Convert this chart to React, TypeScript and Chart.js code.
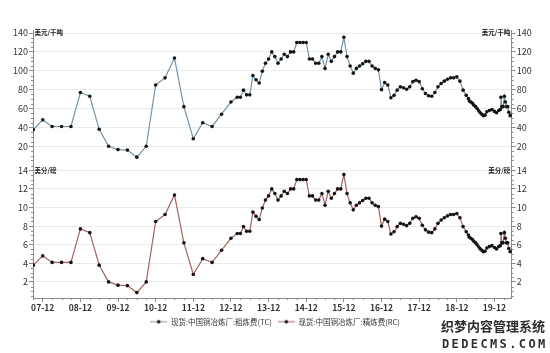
import React, { useEffect, useRef } from 'react';
import { Chart, registerables } from 'chart.js';

Chart.register(...registerables);

const FONT = '"Noto Sans CJK SC", "Noto Sans", sans-serif';
const AXIS_COLOR = '#8c8c8c';
const GRID_COLOR = '#ebebeb';
const TEXT_COLOR = '#333333';
const TC_COLOR = '#7393a8';
const RC_COLOR = '#a3645e';
const POINT_COLOR = '#151515';

// ---- data ----
const dates = [
  '2007-09-01', '2007-12-01', '2008-03-01', '2008-06-01', '2008-09-01', '2008-12-01',
  '2009-03-01', '2009-06-01', '2009-09-01', '2009-12-01', '2010-03-01', '2010-06-01',
  '2010-09-01', '2010-12-01', '2011-03-01', '2011-06-01', '2011-09-01', '2011-12-01',
  '2012-03-01', '2012-06-01', '2012-09-01', '2012-12-01', '2013-02-01', '2013-03-01',
  '2013-04-01', '2013-05-01', '2013-06-01', '2013-07-01', '2013-08-01', '2013-09-01',
  '2013-10-01', '2013-11-01', '2013-12-01', '2014-01-01', '2014-02-01', '2014-03-01',
  '2014-04-01', '2014-05-01', '2014-06-01', '2014-07-01', '2014-08-01', '2014-09-01',
  '2014-10-01', '2014-11-01', '2014-12-01', '2015-01-01', '2015-02-01', '2015-03-01',
  '2015-04-01', '2015-05-01', '2015-06-01', '2015-07-01', '2015-08-01', '2015-09-01',
  '2015-10-01', '2015-11-01', '2015-12-01', '2016-01-01', '2016-02-01', '2016-03-01',
  '2016-04-01', '2016-05-01', '2016-06-01', '2016-07-01', '2016-08-01', '2016-09-01',
  '2016-10-01', '2016-11-01', '2016-12-01', '2017-01-01', '2017-02-01', '2017-03-01',
  '2017-04-01', '2017-05-01', '2017-06-01', '2017-07-01', '2017-08-01', '2017-09-01',
  '2017-10-01', '2017-11-01', '2017-12-01', '2018-01-01', '2018-02-01', '2018-03-01',
  '2018-04-01', '2018-05-01', '2018-06-01', '2018-07-01', '2018-08-01', '2018-09-01',
  '2018-10-01', '2018-11-01', '2018-12-01', '2019-01-01', '2019-02-01', '2019-03-01',
  '2019-03-22', '2019-04-01', '2019-04-15', '2019-05-01', '2019-05-15', '2019-06-01',
  '2019-06-15', '2019-07-01', '2019-07-15', '2019-08-01', '2019-08-15', '2019-09-01',
  '2019-09-18', '2019-10-12', '2019-11-06', '2019-12-01', '2019-12-21', '2020-01-12',
  '2020-01-27', '2020-02-03', '2020-02-12', '2020-02-24', '2020-03-06', '2020-03-15',
  '2020-03-27', '2020-04-08', '2020-04-18', '2020-05-01', '2020-05-12',
];

// 粗炼费 TC (美元/干吨)
const tcValues = [
  37.5, 48, 41, 41, 41, 77,
  73, 38, 20, 16.5, 16, 8.5,
  20, 85, 92.5, 113.5, 62, 28,
  45, 41, 54, 67, 72, 72,
  79.5, 74.5, 74.5, 95, 90.5, 87,
  99.5, 108, 112.5, 120, 115, 108,
  112.5, 117.5, 115, 120, 120, 130,
  130, 130, 130, 112.5, 112.5, 108,
  108, 115, 102.5, 117.5, 110, 115,
  120, 120, 135.5, 115, 105, 97.5,
  102.5, 105, 107.5, 110, 110, 105,
  102.5, 101, 80, 87.5, 85, 71.5,
  74, 79.5, 83, 82, 80.5, 83,
  88.5, 90, 88.5, 81, 76, 73.5,
  73, 77, 83, 86.5, 89, 91,
  92.5, 92.5, 93.5, 89, 79.5, 74,
  70.5, 68, 67, 65.5, 63.5, 62,
  60, 57.5, 55.5, 54, 52.5, 53,
  56.5, 58, 59, 57, 55.5, 58,
  59, 72, 62, 62, 73, 67,
  62, 62, 56, 52.5, 53,
];

// 精炼费 RC (美分/磅)
const rcValues = [
  3.8, 4.8, 4.1, 4.1, 4.1, 7.7,
  7.3, 3.8, 2.0, 1.65, 1.6, 0.85,
  2.0, 8.5, 9.25, 11.35, 6.2, 2.8,
  4.5, 4.1, 5.4, 6.7, 7.2, 7.2,
  7.95, 7.45, 7.45, 9.5, 9.05, 8.7,
  9.95, 10.8, 11.25, 12.0, 11.5, 10.8,
  11.25, 11.75, 11.5, 12.0, 12.0, 13.0,
  13.0, 13.0, 13.0, 11.25, 11.25, 10.8,
  10.8, 11.5, 10.25, 11.75, 11.0, 11.5,
  12.0, 12.0, 13.55, 11.5, 10.5, 9.75,
  10.25, 10.5, 10.75, 11.0, 11.0, 10.5,
  10.25, 10.1, 8.0, 8.75, 8.5, 7.15,
  7.4, 7.95, 8.3, 8.2, 8.05, 8.3,
  8.85, 9.0, 8.85, 8.1, 7.6, 7.35,
  7.3, 7.7, 8.3, 8.65, 8.9, 9.1,
  9.25, 9.25, 9.35, 8.9, 7.95, 7.4,
  7.05, 6.8, 6.7, 6.55, 6.35, 6.2,
  6.0, 5.75, 5.55, 5.4, 5.25, 5.3,
  5.65, 5.8, 5.9, 5.7, 5.55, 5.8,
  5.9, 7.2, 6.2, 6.2, 7.3, 6.7,
  6.2, 6.2, 5.6, 5.25, 5.3,
];

const xTickDates = [
  '2007-12-01', '2008-12-01', '2009-12-01', '2010-12-01', '2011-12-01', '2012-12-01', '2013-12-01',
  '2014-12-01', '2015-12-01', '2016-12-01', '2017-12-01', '2018-12-01', '2019-12-01',
];
const xTickLabels = [
  '07-12', '08-12', '09-12', '10-12', '11-12', '12-12', '13-12',
  '14-12', '15-12', '16-12', '17-12', '18-12', '19-12',
];
const tcTicks = [20, 40, 60, 80, 100, 120, 140];
const rcTicks = [2, 4, 6, 8, 10, 12, 14];

const tcLabel = '现货:中国铜冶炼厂:粗炼费(TC)';
const rcLabel = '现货:中国铜冶炼厂:精炼费(RC)';
const tcUnit = '美元/干吨';
const rcUnit = '美分/磅';
const watermark1 = '织梦内容管理系统';
const watermark2 = 'DEDECMS.COM';

// months since 2007-12
function monthIndex(d: string): number {
  const [y, m, dd] = d.split('-').map(Number);
  return (y - 2007) * 12 + (m - 12) + (dd - 1) / 30;
}

function makeMarker(color: string): HTMLCanvasElement {
  const c = document.createElement('canvas');
  c.width = 17;
  c.height = 6;
  const g = c.getContext('2d')!;
  g.strokeStyle = color;
  g.lineWidth = 1;
  g.beginPath();
  g.moveTo(0, 3);
  g.lineTo(17, 3);
  g.stroke();
  g.fillStyle = POINT_COLOR;
  g.beginPath();
  g.arc(8.5, 3, 1.8, 0, Math.PI * 2);
  g.fill();
  return c;
}

const extrasPlugin = {
  id: 'extras',
  afterDraw(chart: any) {
    const ctx = chart.ctx as CanvasRenderingContext2D;
    const { left, right } = chart.chartArea;
    const s = chart.scales;
    ctx.save();
    ctx.strokeStyle = AXIS_COLOR;
    ctx.lineWidth = 1;
    // minor ticks on y axes
    const minorY = (scale: any, step: number, major: number[], side: 'left' | 'right') => {
      for (let v = step; v < scale.max; v += step) {
        if (v < scale.min) continue;
        if (major.some((m) => Math.abs(m - v) < 1e-6)) continue;
        const y = Math.round(scale.getPixelForValue(v)) + 0.5;
        ctx.beginPath();
        if (side === 'left') {
          ctx.moveTo(left - 2, y);
          ctx.lineTo(left, y);
        } else {
          ctx.moveTo(right, y);
          ctx.lineTo(right + 2, y);
        }
        ctx.stroke();
      }
    };
    minorY(s.yTC, 5, tcTicks, 'left');
    minorY(s.yRC, 0.5, rcTicks, 'left');
    minorY(s.yTCR, 5, tcTicks, 'right');
    minorY(s.yRCR, 0.5, rcTicks, 'right');
    // minor ticks on x axis (quarterly)
    const xs = s.x;
    const bottom = chart.chartArea.bottom;
    for (let m = -3; m <= xs.max; m += 3) {
      if (m % 12 === 0) continue;
      const x = Math.round(xs.getPixelForValue(m)) + 0.5;
      ctx.beginPath();
      ctx.moveTo(x, bottom);
      ctx.lineTo(x, bottom + 2);
      ctx.stroke();
    }
    // unit labels
    ctx.fillStyle = '#222';
    ctx.font = `bold 6.5px ${FONT}`;
    ctx.textBaseline = 'middle';
    const yTop = s.yTC.getPixelForValue(140);
    const yBot = s.yRC.getPixelForValue(14);
    ctx.textAlign = 'left';
    ctx.fillText(tcUnit, left + 1.5, yTop);
    ctx.fillText(rcUnit, left + 1.5, yBot);
    ctx.textAlign = 'right';
    ctx.fillText(tcUnit, right - 1.5, yTop);
    ctx.fillText(rcUnit, right - 1.5, yBot);
    // watermark
    ctx.textAlign = 'left';
    ctx.fillStyle = '#2e2e2e';
    ctx.font = `bold 13px ${FONT}`;
    ctx.fillText(watermark1, 441, 326);
    ctx.font = `bold 12px "DejaVu Sans Mono", monospace`;
    for (let i = 0; i < watermark2.length; i++) {
      ctx.fillText(watermark2[i], 442 + i * 9.6, 345);
    }
    ctx.restore();
  },
};

function yScale(ticksArr: number[], position: 'left' | 'right', stack: string, min: number, max: number) {
  return {
    type: 'linear',
    position,
    stack,
    stackWeight: 1,
    min,
    max,
    afterBuildTicks: (scale: any) => {
      scale.ticks = ticksArr.map((v) => ({ value: v }));
    },
    afterFit: (scale: any) => {
      scale.width = position === 'left' ? 33 : 38.3;
    },
    border: { display: true, color: AXIS_COLOR, width: 1 },
    grid: {
      display: true,
      drawOnChartArea: position === 'left',
      color: GRID_COLOR,
      tickColor: AXIS_COLOR,
      tickLength: 4,
      lineWidth: 1,
    },
    ticks: {
      autoSkip: false,
      font: { family: FONT, size: 9 },
      color: TEXT_COLOR,
      padding: 1,
    },
  };
}

export default function App() {
  const ref = useRef<HTMLCanvasElement | null>(null);

  useEffect(() => {
    if (!ref.current) return;
    const xVals = dates.map(monthIndex);
    const xTickVals = xTickDates.map(monthIndex);
    const markers = [makeMarker(TC_COLOR), makeMarker(RC_COLOR)];
    const chart = new Chart(ref.current, {
      type: 'line',
      data: {
        datasets: [
          {
            label: tcLabel,
            data: xVals.map((x, i) => ({ x, y: tcValues[i] })),
            yAxisID: 'yTC',
            borderColor: TC_COLOR,
            borderWidth: 1.2,
            pointRadius: 1.8,
            pointBackgroundColor: POINT_COLOR,
            pointBorderWidth: 0,
            tension: 0,
          },
          {
            label: rcLabel,
            data: xVals.map((x, i) => ({ x, y: rcValues[i] })),
            yAxisID: 'yRC',
            borderColor: RC_COLOR,
            borderWidth: 1.2,
            pointRadius: 1.8,
            pointBackgroundColor: POINT_COLOR,
            pointBorderWidth: 0,
            tension: 0,
          },
        ],
      },
      options: {
        responsive: false,
        animation: false,
        layout: { padding: { top: 30, right: 0, bottom: 17.5, left: 0 } },
        plugins: {
          legend: {
            position: 'bottom',
            labels: {
              font: { family: FONT, size: 7.5 },
              color: TEXT_COLOR,
              usePointStyle: true,
              pointStyleWidth: 17,
              padding: 6,
              generateLabels: (c: any) => {
                const items = (Chart as any).defaults.plugins.legend.labels.generateLabels(c);
                return items.map((it: any, i: number) => ({ ...it, pointStyle: markers[i], lineWidth: 0 }));
              },
            },
          },
          tooltip: { enabled: false },
        },
        scales: {
          x: {
            type: 'linear',
            position: 'bottom',
            min: -3.1,
            max: 149.5,
            afterBuildTicks: (scale: any) => {
              scale.ticks = xTickVals.map((v) => ({ value: v }));
            },
            afterFit: (scale: any) => {
              scale.height = 14;
            },
            border: { display: true, color: AXIS_COLOR, width: 1 },
            grid: { display: true, drawOnChartArea: false, tickColor: AXIS_COLOR, tickLength: 4 },
            ticks: {
              autoSkip: false,
              maxRotation: 0,
              padding: 1,
              font: { family: FONT, size: 8.5, weight: 'bold' },
              color: TEXT_COLOR,
              callback: (_v: any, i: number) => xTickLabels[i],
            },
          },
          yRC: yScale(rcTicks, 'left', 'L', 0.27, 14.68),
          yTC: yScale(tcTicks, 'left', 'L', 1.26, 143.2),
          yTCR: yScale(tcTicks, 'right', 'R', 1.26, 143.2),
          yRCR: yScale(rcTicks, 'right', 'R', 0.27, 14.68),
        },
      } as any,
      plugins: [extrasPlugin],
    });
    return () => chart.destroy();
  }, []);

  return (
    <div style={{ position: 'absolute', left: 0, top: 0, width: 550, height: 353, background: '#fff' }}>
      <canvas ref={ref} width={550} height={353} style={{ width: 550, height: 353 }} />
    </div>
  );
}
